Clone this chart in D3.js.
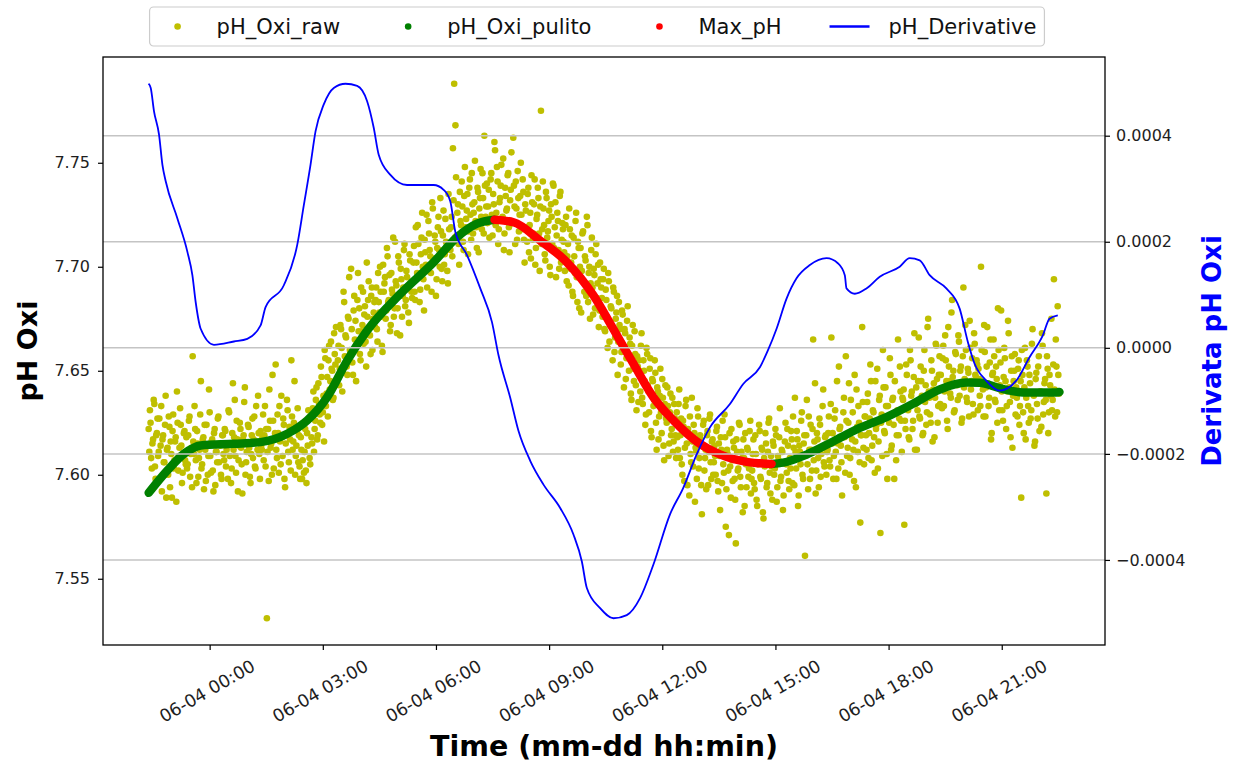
<!DOCTYPE html>
<html>
<head>
<meta charset="utf-8">
<title>pH Oxi</title>
<script src="https://cdnjs.cloudflare.com/ajax/libs/d3/7.8.5/d3.min.js"></script>
<style>
body { margin: 0; background: #fff; }
svg { font-family: "DejaVu Sans", sans-serif; }
</style>
</head>
<body>
<svg id="chart" width="1234" height="765"></svg>
<script>
// raw readings, stored as thousandths above pH 7 (622 -> 7.622)
// even minutes start 06-03 22:23, odd minutes start one minute later, 2 min step each
const rawStart = new Date(2023, 5, 3, 22, 23);
const rawStepMin = 2;
const rawEven = [
  622,631,608,615,636,604,619,627,611,598,633,617,606,624,589,613,628,594,610,621,603,616,587,625,609,632,614,601,620,607,
  618,605,626,599,613,657,610,622,596,615,608,629,603,617,593,612,624,600,641,609,616,602,620,595,611,627,606,614,598,619,
  607,621,612,598,630,615,603,644,618,609,626,592,614,622,605,617,635,600,611,624,613,596,619,608,628,603,616,638,610,621,
  612,629,619,604,531,622,641,613,600,626,617,653,608,620,633,605,618,627,598,615,636,611,623,602,628,616,645,609,621,606,
  604,618,598,625,611,602,620,631,608,627,615,640,622,636,617,644,629,652,624,638,660,633,647,655,641,664,650,637,658,671,
  646,662,651,670,640,688,657,666,648,675,660,699,654,679,665,645,684,669,658,690,672,663,681,652,676,693,667,686,660,678,
  671,690,664,683,700,676,659,688,695,679,705,684,669,697,687,676,712,691,680,702,667,694,686,708,681,698,690,673,703,688,
  693,710,684,702,720,696,689,714,700,679,707,725,698,716,705,688,728,703,712,694,719,708,733,699,715,701,723,710,692,718,
  708,724,757,788,768,715,730,701,722,741,712,734,719,727,706,738,725,745,716,731,722,709,736,728,747,718,733,763,724,740,
  729,714,742,725,735,760,720,748,711,731,739,723,752,716,734,728,745,707,737,721,762,729,741,713,733,725,750,718,736,702,
  727,712,738,720,704,731,716,742,709,725,733,698,775,718,728,706,736,714,722,700,730,711,739,719,695,726,708,734,702,721,
  712,698,724,705,691,718,702,688,714,697,726,683,709,700,678,716,693,705,686,720,697,675,708,690,699,680,711,692,671,702,
  690,676,699,669,684,661,693,672,680,655,688,666,678,648,683,670,659,677,642,668,656,681,650,663,636,672,645,658,631,652,
  655,640,668,634,650,624,661,643,630,656,618,645,636,649,612,640,628,651,620,637,607,643,625,633,615,639,622,611,634,619,
  630,612,641,619,605,626,597,633,615,622,590,610,637,604,620,613,598,628,608,617,581,624,602,612,619,595,627,606,616,600,
  614,600,623,592,609,618,596,605,629,575,612,602,620,589,607,616,598,567,611,603,624,594,608,617,585,605,613,599,621,591,
  602,617,593,610,585,606,621,598,612,579,604,615,596,625,601,609,588,614,603,619,594,607,632,599,611,590,616,605,622,597,
  608,621,596,613,637,603,617,590,611,626,600,615,561,619,605,628,598,612,622,607,644,602,617,594,624,610,633,606,618,600,
  612,628,604,666,620,609,631,598,615,652,623,606,618,637,601,626,613,644,608,621,630,597,616,641,611,625,577,619,635,605,
  628,612,639,620,653,607,631,618,645,624,603,636,572,629,660,621,642,610,633,625,648,614,637,598,630,619,665,627,640,611,
  636,576,622,648,631,617,655,640,626,668,634,612,645,628,652,638,620,660,643,630,675,637,625,650,641,618,663,646,633,657,
  648,632,662,640,655,626,671,645,637,684,650,631,658,643,667,638,652,627,690,646,660,635,649,674,641,656,629,663,647,653,
  651,638,700,645,628,659,642,671,633,654,617,648,665,636,652,625,660,643,679,631,647,656,622,640,668,635,650,613,645,658,
  642,628,655,633,589,648,620,661,637,652,625,644,631,670,638,616,649,627,657,640,623,662,635,646,591,651,630,643,675,636,
  694,628,652,681,639
];
const rawOdd = [
  611,625,603,617,634,598,620,609,627,614,592,619,606,638,612,600,623,616,589,629,607,618,640,602,613,624,596,610,621,605,
  603,619,628,610,594,616,633,607,621,599,612,645,605,618,624,597,614,609,630,601,617,592,622,611,606,628,615,600,619,610,
  622,604,615,631,609,596,620,612,636,601,617,607,625,613,591,619,642,606,615,623,599,610,627,617,604,633,612,620,598,614,
  618,607,633,622,611,597,626,615,648,603,620,612,629,601,616,638,609,624,594,619,631,606,617,655,612,625,600,614,632,619,
  598,612,607,601,622,596,614,627,605,618,632,611,626,642,619,634,625,647,630,616,656,639,628,662,645,651,636,668,653,644,
  655,643,672,661,649,683,667,652,676,695,659,670,648,686,674,662,697,680,655,669,688,677,664,702,684,671,658,690,675,683,
  684,670,697,678,688,662,701,692,675,709,683,696,672,689,714,680,693,668,705,687,699,676,690,711,684,695,678,706,692,685,
  702,688,719,697,711,683,706,726,694,713,701,690,722,708,697,731,704,715,686,709,724,700,717,693,727,706,712,698,735,709,
  719,705,732,714,743,726,711,736,720,729,708,748,723,735,717,742,713,730,726,751,719,738,707,733,724,745,716,739,729,721,
  737,722,745,715,730,756,726,741,718,733,749,724,708,738,727,744,719,732,755,721,739,711,728,746,717,734,725,742,713,730,
  719,735,707,726,744,713,730,701,723,738,716,729,711,741,720,703,733,717,727,696,724,740,709,731,715,722,699,736,713,718,
  707,720,693,711,728,699,715,686,705,722,695,712,680,709,698,717,688,703,724,683,700,692,714,677,696,706,685,701,679,694,
  685,694,670,689,676,697,664,681,671,690,659,675,686,664,672,653,679,661,670,646,674,658,666,639,662,651,669,643,657,635,
  650,662,637,655,645,629,658,640,651,621,646,633,655,625,642,617,638,630,646,614,634,627,642,609,630,619,637,616,627,608,
  618,634,608,627,600,623,613,636,595,619,628,606,616,624,587,611,632,603,619,595,614,626,608,593,621,611,629,598,617,606,
  609,621,597,615,583,612,626,601,618,593,610,571,604,622,597,613,588,617,602,625,599,611,582,608,620,594,612,603,626,598,
  610,596,619,588,605,624,599,613,582,608,620,594,611,627,591,604,616,600,622,587,609,618,597,612,583,606,625,601,614,593,
  603,617,628,595,611,621,585,614,605,630,598,619,609,636,593,612,624,602,665,616,591,620,608,627,599,613,641,604,619,611,
  620,607,634,615,598,627,611,645,603,622,614,590,630,618,657,609,625,600,636,617,612,648,594,623,633,606,619,671,613,628,
  619,635,608,627,645,614,630,601,622,651,616,638,625,609,642,620,633,598,628,656,612,636,624,645,607,631,619,652,626,637,
  641,626,653,633,618,660,638,622,647,612,642,631,666,627,645,619,650,635,624,671,640,629,655,616,644,637,662,625,648,634,
  641,656,633,667,645,622,652,639,678,647,630,659,644,636,664,650,625,657,642,672,637,651,628,661,645,634,668,648,655,631,
  646,633,660,641,672,628,652,644,637,665,620,649,657,635,646,680,631,654,640,626,661,645,633,674,642,618,657,638,650,629,
  637,651,624,645,660,630,642,617,655,633,648,627,663,639,614,646,634,652,621,640,668,629,644,636,657,620,648,638,631,653,
  641,665,630,648
];

// smoothed series (hours from 06-04 00:00)
const cleanHours = [-1.617,-1.120,-0.680,-0.238,0.643,1.350,2.057,2.587,3.116,3.646,4.175,5.057,5.939,6.558,7.088,7.554,
  8.057,8.764,9.470,10.175,10.704,11.234,11.763,12.293,12.912,13.529,14.236,14.898,
  15.205,15.825,16.529,17.236,17.943,18.647,19.354,20.061,20.413,20.943,21.560,22.444,22.530];
const cleanPh = [7.5913,7.6021,7.6101,7.6141,7.6149,7.6157,7.6197,7.6261,7.6373,7.6549,7.6694,7.6870,7.7022,7.7142,7.7207,7.7226,
  7.7214,7.7126,7.7022,7.6862,7.6700,7.6534,7.6373,7.6262,7.6160,7.6098,7.6062,7.6052,
  7.6058,7.6097,7.6160,7.6225,7.6277,7.6341,7.6410,7.6443,7.6442,7.6416,7.6396,7.6396,7.6398];
// window flagged as Max_pH
const maxWindow = [7.554, 14.898];

// derivative of the smoothed pH
const derivHours = [-1.620,-1.562,-1.475,-1.342,-1.252,-1.165,-0.855,-0.590,-0.458,-0.371,-0.238,0.114,0.643,0.998,1.350,1.483,
  1.967,2.322,2.497,2.674,2.807,3.026,3.291,3.601,3.911,4.175,4.350,4.482,4.792,5.234,5.939,6.203,6.381,6.513,6.823,7.175,
  7.485,7.660,7.969,8.189,8.499,8.851,9.293,9.645,9.868,10.000,10.352,10.704,11.059,11.411,11.763,12.205,12.557,12.912,13.264,
  13.794,14.146,14.588,14.800,15.030,15.295,15.560,15.912,16.354,16.662,16.839,16.884,17.104,17.413,17.766,18.295,18.560,
  18.825,19.089,19.531,19.884,20.103,20.280,20.590,20.943,21.385,21.737,22.089,22.266,22.486];
const derivValues = [0.000498,0.000490,0.000446,0.000402,0.000345,0.000314,0.000244,0.000181,0.000137,0.0000864,0.000036,0.0000057,
  0.0000119,0.000017,0.0000422,0.0000769,0.000118,0.000194,0.000269,0.000345,0.000408,0.000459,0.000490,0.000498,0.000494,
  0.000465,0.000415,0.000364,0.000326,0.000307,0.000307,0.000298,0.000276,0.000219,0.000175,0.000112,0.0000485,-0.0000146,
  -0.0000941,-0.000157,-0.000213,-0.000258,-0.000302,-0.000352,-0.000403,-0.000453,-0.000491,-0.000510,-0.000504,-0.000472,
  -0.000409,-0.000314,-0.000264,-0.000201,-0.000150,-0.000106,-0.0000682,-0.0000367,-0.000005,0.000036,0.0000928,0.000131,
  0.000156,0.000169,0.000159,0.000137,0.000112,0.000102,0.000112,0.000134,0.000153,0.000169,0.000165,0.000137,0.000112,
  0.0000739,0.0000106,-0.000030,-0.000062,-0.0000809,-0.000062,-0.0000178,0.0000233,0.0000549,0.0000612];

const phTicks = [7.55, 7.60, 7.65, 7.70, 7.75];
const derivTicks = [-0.0004, -0.0002, 0, 0.0002, 0.0004];

const legendNames = ["pH_Oxi_raw", "pH_Oxi_pulito", "Max_pH", "pH_Derivative"];
const colors = { raw: "#bfbf00", clean: "#008000", max: "#ff0000", deriv: "#0000ff" };

// ---- layout
const plotLeft = 103, plotRight = 1105, plotTop = 57, plotBottom = 645;
const svg = d3.select("#chart");

const base = new Date(2023, 5, 4, 0, 0);
const atHour = h => new Date(+base + h * 3600e3);

const raw = [].concat(
  rawEven.map((v, i) => ({ t: new Date(+rawStart + i * rawStepMin * 60e3), ph: 7 + v / 1000 })),
  rawOdd.map((v, i) => ({ t: new Date(+rawStart + (i * rawStepMin + 1) * 60e3), ph: 7 + v / 1000 }))
).sort((a, b) => a.t - b.t);
const clean = cleanHours.map((h, i) => ({ h: h, t: atHour(h), ph: cleanPh[i] }));
const deriv = derivHours.map((h, i) => ({ t: atHour(h), d: derivValues[i] }));

function padded(ext) {
  const p = (ext[1] - ext[0]) * 0.05;
  return [ext[0] - p, ext[1] + p];
}

const tExt = d3.extent([].concat(raw.map(d => +d.t), clean.map(d => +d.t), deriv.map(d => +d.t)));
const x = d3.scaleTime().domain(padded(tExt).map(v => new Date(v))).range([plotLeft, plotRight]);
const y = d3.scaleLinear().domain(padded(d3.extent([].concat(raw.map(d => d.ph), cleanPh)))).range([plotBottom, plotTop]);
const y2 = d3.scaleLinear().domain(padded(d3.extent(derivValues))).range([plotBottom, plotTop]);

svg.append("defs").append("clipPath").attr("id", "plot")
  .append("rect").attr("x", plotLeft).attr("y", plotTop)
  .attr("width", plotRight - plotLeft).attr("height", plotBottom - plotTop);

const plot = svg.append("g").attr("clip-path", "url(#plot)");

// raw scatter
plot.append("g")
  .selectAll("circle")
  .data(raw)
  .join("circle")
  .attr("cx", d => x(d.t))
  .attr("cy", d => y(d.ph))
  .attr("r", 3.3)
  .attr("fill", colors.raw);

// smoothed line: green outside the max window, red inside
const line = d3.line().x(d => x(d.t)).y(d => y(d.ph)).curve(d3.curveMonotoneX);
const before = clean.filter(d => d.h <= maxWindow[0]);
const inside = clean.filter(d => d.h >= maxWindow[0] && d.h <= maxWindow[1]);
const after = clean.filter(d => d.h >= maxWindow[1]);

[[before, colors.clean], [after, colors.clean], [inside, colors.max]].forEach(([pts, c]) => {
  plot.append("path")
    .attr("d", line(pts))
    .attr("fill", "none")
    .attr("stroke", c)
    .attr("stroke-width", 8.5)
    .attr("stroke-linecap", "round");
});

// grid from the derivative axis
plot.append("g")
  .selectAll("line")
  .data(derivTicks)
  .join("line")
  .attr("x1", plotLeft).attr("x2", plotRight)
  .attr("y1", d => y2(d)).attr("y2", d => y2(d))
  .attr("stroke", "#c4c4c4")
  .attr("stroke-width", 1.5);

// derivative
plot.append("path")
  .attr("d", d3.line().x(d => x(d.t)).y(d => y2(d.d)).curve(d3.curveMonotoneX)(deriv))
  .attr("fill", "none")
  .attr("stroke", colors.deriv)
  .attr("stroke-width", 1.8);

// ---- axes
const tickFont = 16;
const timeFont = 17.5;

const yAxis = svg.append("g")
  .attr("transform", `translate(${plotLeft},0)`)
  .call(d3.axisLeft(y).tickValues(phTicks).tickFormat(d3.format(".2f")).tickSize(5).tickPadding(8));

const y2Axis = svg.append("g")
  .attr("transform", `translate(${plotRight},0)`)
  .call(d3.axisRight(y2).tickValues(derivTicks).tickFormat(d3.format(".4f")).tickSize(5).tickPadding(6));

const xAxis = svg.append("g")
  .attr("transform", `translate(0,${plotBottom})`)
  .call(d3.axisBottom(x).ticks(d3.timeHour.every(3)).tickFormat(d3.timeFormat("%m-%d %H:%M")).tickSize(5));

[yAxis, y2Axis, xAxis].forEach(g => {
  g.select(".domain").remove();
  g.selectAll(".tick line").attr("stroke", "#000").attr("stroke-width", 1.2);
  g.selectAll(".tick text").attr("font-size", tickFont).attr("fill", "#1e1e1e")
    .attr("font-family", "DejaVu Sans");
});

// rotate the time labels 30 degrees, bbox centred under the tick
xAxis.selectAll(".tick text").attr("font-size", timeFont).each(function() {
  const t = d3.select(this);
  const len = this.getComputedTextLength();
  const hgt = timeFont * 1.1;
  const bh = len * 0.5 + hgt * 0.866;
  t.attr("text-anchor", "middle")
    .attr("dy", "0.35em")
    .attr("y", 0)
    .attr("transform", `translate(-3,${11 + bh / 2}) rotate(-30)`);
});

// frame
svg.append("rect")
  .attr("x", plotLeft).attr("y", plotTop)
  .attr("width", plotRight - plotLeft).attr("height", plotBottom - plotTop)
  .attr("fill", "none").attr("stroke", "#000").attr("stroke-width", 1.3);

// axis titles
svg.append("text")
  .attr("transform", `translate(${(plotLeft + plotRight) / 2},756)`)
  .attr("text-anchor", "middle")
  .attr("font-size", 28.5).attr("font-weight", "bold")
  .text("Time (mm-dd hh:min)");

svg.append("text")
  .attr("transform", `translate(37,${(plotTop + plotBottom) / 2}) rotate(-90)`)
  .attr("text-anchor", "middle")
  .attr("font-size", 27).attr("font-weight", "bold")
  .text("pH Oxi");

svg.append("text")
  .attr("transform", `translate(1221,${(plotTop + plotBottom) / 2}) rotate(-90)`)
  .attr("text-anchor", "middle")
  .attr("font-size", 26).attr("font-weight", "bold")
  .attr("fill", colors.deriv)
  .text("Derivata pH Oxi");

// ---- legend
const legend = svg.append("g");
const legendBox = legend.append("rect")
  .attr("rx", 4)
  .attr("fill", "#fff").attr("fill-opacity", 0.85)
  .attr("stroke", "#cccccc").attr("stroke-width", 1.2);

const legendColors = [colors.raw, colors.clean, colors.max, colors.deriv];
let lx = 0;
legendNames.forEach((name, i) => {
  const g = legend.append("g").attr("transform", `translate(${lx},0)`);
  if (i < 3) {
    g.append("circle").attr("cx", 20).attr("cy", 0).attr("r", 3.3).attr("fill", legendColors[i]);
  } else {
    g.append("line").attr("x1", 0).attr("x2", 40).attr("y1", 0).attr("y2", 0)
      .attr("stroke", legendColors[i]).attr("stroke-width", 2.5);
  }
  const txt = g.append("text")
    .attr("x", 59).attr("dy", "0.35em")
    .attr("font-size", 21)
    .attr("fill", "#111")
    .text(name);
  lx += 59 + txt.node().getComputedTextLength() + 48;
});
const legendW = lx - 48;
legend.attr("transform", `translate(${597 - legendW / 2},26.5)`);
legendBox.attr("x", -8).attr("y", -19.5).attr("width", legendW + 16).attr("height", 39);
</script>
</body>
</html>
